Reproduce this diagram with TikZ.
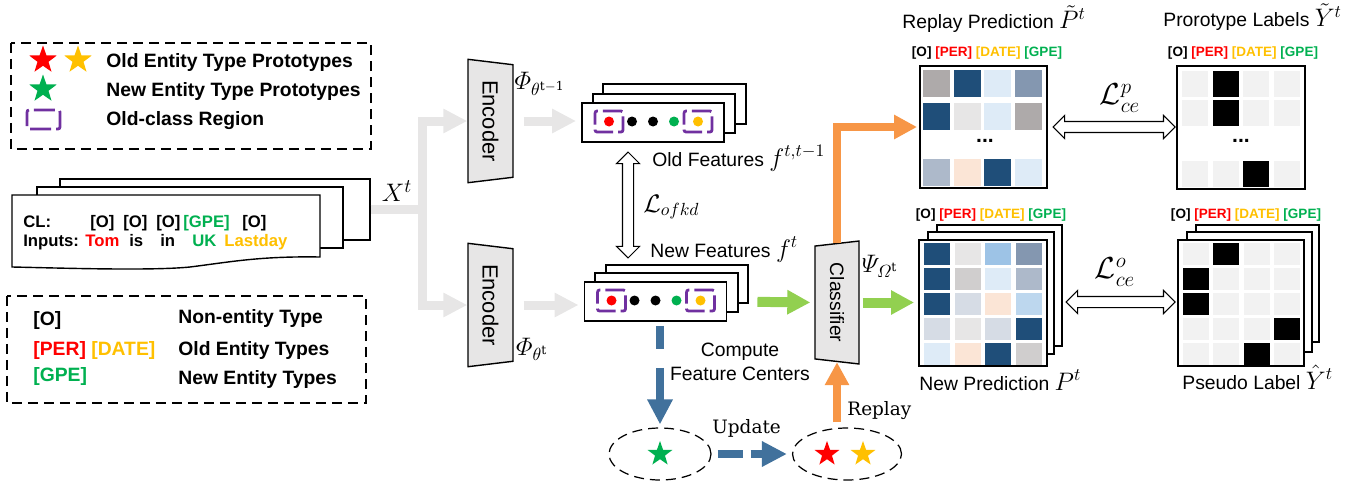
\documentclass[tikz,border=0pt]{standalone}
\usepackage{amsmath}
\usepackage{fontspec}
\setmainfont{DejaVu Serif}
\setsansfont{Liberation Sans}
\usetikzlibrary{arrows.meta,shapes.geometric,shapes.arrows,calc,positioning}

\definecolor{oldRed}{HTML}{FF0000}
\definecolor{oldYel}{HTML}{FFC000}
\definecolor{newGrn}{HTML}{00B050}
\definecolor{regPur}{HTML}{7030A0}
\definecolor{flowGray}{HTML}{E7E6E6}
\definecolor{flowOra}{HTML}{F79646}
\definecolor{flowGrn}{HTML}{92D050}
\definecolor{flowBlu}{HTML}{41719C}
% heat map cells
\definecolor{cDb}{HTML}{1F4E79}
\definecolor{cGa}{HTML}{AEAAAA}
\definecolor{cGb}{HTML}{8497B0}
\definecolor{cVl}{HTML}{DEEBF7}
\definecolor{cLg}{HTML}{E7E6E6}
\definecolor{cBs}{HTML}{ADB9CA}
\definecolor{cPe}{HTML}{FBE5D6}
\definecolor{cLb}{HTML}{9DC3E6}
\definecolor{cGm}{HTML}{D0CECE}
\definecolor{cBt}{HTML}{D6DCE5}
\definecolor{cBe}{HTML}{BDD7EE}
\definecolor{cW}{HTML}{F2F2F2}
\definecolor{cK}{HTML}{000000}

\newcommand{\typehead}{[O] \textcolor{oldRed}{[PER]} \textcolor{oldYel}{[DATE]} \textcolor{newGrn}{[GPE]}}
\newcommand{\mlab}[1]{{\fontsize{14}{16}\selectfont$#1$}}

\begin{document}
\begin{tikzpicture}[x=0.02cm, y=-0.02cm, >=latex,
    txt/.style={font=\sffamily\fontsize{11}{13.6}\selectfont, inner sep=0},
    btxt/.style={font=\sffamily\bfseries\fontsize{11}{13}\selectfont, inner sep=0, anchor=west},
    dtxt/.style={font=\sffamily\bfseries\fontsize{9.5}{11}\selectfont, inner sep=0, anchor=base west},
    hdr/.style={font=\sffamily\bfseries\fontsize{7.7}{9}\selectfont, inner sep=0},
    stxt/.style={font=\fontsize{10.5}{12}\selectfont, inner sep=0, anchor=base west},
    legbox/.style={line width=0.7pt, dash pattern=on 0.2cm off 0.12cm},
    sheet/.style={draw, fill=white, line width=0.8pt},
    msheet/.style={draw, fill=white, line width=1.1pt},
    mbox/.style={draw, fill=white, line width=1.1pt, inner sep=0},
    pstar/.style={star, star points=5, star point ratio=2.5, inner sep=0, minimum size=0.58cm},
    regbox/.style={regPur, line width=1.6pt, rounded corners=1.2pt, dash pattern=on 0.39cm off 0.1cm, dash phase=0.16cm},
    netbox/.style={trapezium, draw, fill=flowGray, line width=0.8pt, rotate=-90, trapezium stretches=true, inner sep=0},
    hollow/.style={double arrow, draw, fill=white, line width=0.6pt, inner sep=0.1cm, minimum width=0pt, double arrow head extend=0.12cm, double arrow tip angle=90},
    protoset/.style={ellipse, draw, line width=0.7pt, dash pattern=on 0.2cm off 0.12cm, minimum height=1.04cm},
    grayarr/.style={flowGray, line width=0.18cm, -{Triangle[width=0.46cm, length=0.48cm]}},
    grnarr/.style={flowGrn, line width=0.2cm, -{Triangle[width=0.46cm, length=0.46cm]}},
    oraarr/.style={flowOra, line width=0.16cm, -{Triangle[width=0.46cm, length=0.46cm]}},
    bluarr/.style={flowBlu, line width=0.16cm, -{Triangle[width=0.48cm, length=0.5cm]}}]
    \useasboundingbox (0,0) rectangle (1361,483);

    % 1. Chú thích
    \draw[legbox] (11,43) rectangle (371,149);
    \node[pstar, fill=oldRed] (lsR) at (43,60) {};
    \node[pstar, fill=oldYel] (lsY) at (78,60) {};
    \node[pstar, fill=newGrn] (lsG) at (43,89) {};
    \draw[regbox, dash pattern=on 0.42cm off 0.1cm, dash phase=0.14cm] (27,110) rectangle (60,129);
    \node[btxt] (lt1) at (106,63) {Old Entity Type Prototypes};
    \node[btxt] (lt2) at (106,92) {New Entity Type Prototypes};
    \node[btxt] (lt3) at (106,121) {Old-class Region};

    \draw[legbox] (7,296) rectangle (366,403);
    \node[btxt] (ty1) at (33,320) {[O]};
    \node[btxt] (ty2) at (33,350) {\textcolor{oldRed}{[PER]} \textcolor{oldYel}{[DATE]}};
    \node[btxt] (ty3) at (33,376) {\textcolor{newGrn}{[GPE]}};
    \node[btxt] (tn1) at (178,318) {Non-entity Type};
    \node[btxt] (tn2) at (178,350) {Old Entity Types};
    \node[btxt] (tn3) at (178,379) {New Entity Types};

    % 2. Câu đầu vào
    \node[sheet, minimum width=6.2cm, minimum height=1.22cm, inner sep=0] (docB) at (215,209.5) {};
    \draw[sheet] (37,187) rectangle (343,248);
    \draw[sheet] (12,195) -- (320,195) -- (320,257)
        .. controls (260,256) and (230,262) .. (190,267)
        .. controls (150,271) and (60,268) .. (12,267) -- cycle;
    \node[dtxt] (cl0) at (23,227) {CL:};
    \node[dtxt] (cl1) at (90,227) {[O]};
    \node[dtxt] (cl2) at (123,227) {[O]};
    \node[dtxt] (cl3) at (156,227) {[O]};
    \node[dtxt, text=newGrn] (cl4) at (183,227) {[GPE]};
    \node[dtxt] (cl5) at (242,227) {[O]};
    \node[dtxt] (in0) at (23,246) {Inputs:};
    \node[dtxt, text=oldRed] (in1) at (85,246) {Tom};
    \node[dtxt] (in2) at (129,246) {is};
    \node[dtxt] (in3) at (160,246) {in};
    \node[dtxt, text=newGrn] (in4) at (192,246) {UK};
    \node[dtxt, text=oldYel] (in5) at (224,246) {Lastday};
    \node[inner sep=0, font=\fontsize{15}{17}\selectfont] (xt) at (397,191) {$X^t$};

    % 3. Encoder và đặc trưng
    \node[netbox, trapezium angle=76.3, minimum width=2.48cm, minimum height=0.9cm,
        font=\sffamily\fontsize{12.5}{14}\selectfont] (encT) at (490.5,121) {Encoder};
    \node[netbox, trapezium angle=76.3, minimum width=2.48cm, minimum height=0.9cm,
        font=\sffamily\fontsize{12.5}{14}\selectfont] (encB) at (490.5,305) {Encoder};
    \node[inner sep=0] (phiT) at (540,84) {\mlab{\varPhi_{\theta^{\mathrm{t-1}}}}};
    \node[inner sep=0] (phiB) at (532,349) {\mlab{\varPhi_{\theta^{\mathrm{t}}}}};

    \draw[flowGray, line width=0.18cm] (docB.east) -- ++(52,0) coordinate (split);
    \draw[grayarr] (split) |- (encT.south);
    \draw[grayarr] (split) |- (encB.south);

    \draw[sheet] (603,84) rectangle (746,124);
    \draw[sheet] (593,94) rectangle (735,133);
    \node[mbox, minimum width=2.84cm, minimum height=0.78cm] (oldF) at (653,122.5) {};
    \draw[sheet] (606,265) rectangle (748,303);
    \draw[sheet] (595,273) rectangle (738,312);
    \node[mbox, minimum width=2.84cm, minimum height=0.78cm] (newF) at (655.5,301.5) {};
    \foreach \fb in {oldF,newF} {
        \foreach \dx/\cl in {-44/oldRed,-21/black,0/black,21/newGrn,45/oldYel}
            \fill[\cl] ($(\fb)+(\dx,-1)$) circle (5);
        \draw[regbox] ($(\fb)+(-58,-11.5)$) rectangle ++(28,21);
        \draw[regbox] ($(\fb)+(31,-11.5)$) rectangle ++(28,21);
    }
    \draw[grayarr, shorten <=0.2cm, shorten >=0.1cm] (encT.north) -- (encT.north -| oldF.west);
    \draw[grayarr, shorten <=0.2cm, shorten >=0.1cm] (encB.north) -- (encB.north -| newF.west);

    \node[txt, anchor=base west] (oldFl) at (652,166) {Old Features \mlab{f^{t,t-1}}};
    \node[txt, anchor=base west] (newFl) at (650,257) {New Features \mlab{f^{t}}};
    \node[hollow, rotate=90, minimum height=2.12cm] (ofkdArr) at (628,205) {};
    \node[inner sep=0, anchor=west] (lofkd) at (643,207) {\mlab{\mathcal{L}_{ofkd}}};

    % 4. Nguyên mẫu
    \node[protoset, minimum width=2.04cm] (protoNew) at (660,454) {};
    \node[protoset, minimum width=2.18cm] (protoOld) at (847,454) {};
    \node[pstar, fill=newGrn, minimum size=0.52cm] (pG) at (660,454) {};
    \node[pstar, fill=oldRed, minimum size=0.52cm] (pR) at (827,454) {};
    \node[pstar, fill=oldYel, minimum size=0.52cm] (pY) at (863,454) {};
    \node[txt, align=center] (cfc) at (740,362) {Compute\\Feature Centers};
    \node[stxt] (upd) at (712,433) {Update};
    \node[stxt] (rep) at (847,415) {Replay};
    \draw[bluarr, dash pattern=on 0.46cm off 0.38cm on 1cm off 0cm, shorten <=0.08cm, shorten >=0.06cm]
        (protoNew.north |- newF.south) -- (protoNew.north);
    \draw[bluarr, dash pattern=on 0.5cm off 0.16cm on 1cm off 0cm, shorten <=0.12cm, shorten >=0.1cm]
        (protoNew.east) -- (protoOld.west);

    % 5. Classifier
    \node[netbox, trapezium left angle=104, trapezium right angle=104, minimum width=2.46cm, minimum height=0.88cm,
        font=\sffamily\fontsize{11}{13}\selectfont] (cls) at (837,302.5) {Classifier};
    \node[inner sep=0] (psi) at (880,266) {\mlab{\varPsi_{\varOmega^{\mathrm{t}}}}};

    % 6. Ma trận dự đoán
    \node[mbox, minimum width=2.54cm, minimum height=2.44cm] (repP) at (983.5,127) {};
    \foreach \ry/\row in {70/{cGa,cDb,cVl,cGb},103/{cDb,cLg,cVl,cGa},159/{cBs,cPe,cDb,cVl}}
        \foreach \c [count=\k] in \row
            \fill[\c] ({923+30.7*(\k-1)},\ry) rectangle ++(27,27);
    \node[font=\sffamily\bfseries\fontsize{12}{12}\selectfont, inner sep=0] (dRep) at (985,141) {...};
    \node[mbox, minimum width=2.56cm, minimum height=2.46cm] (protoL) at (1241,127.5) {};
    \foreach \ry/\row in {71/{cW,cK,cW,cW},100/{cW,cK,cW,cW},161/{cW,cW,cK,cW}}
        \foreach \c [count=\k] in \row
            \fill[\c] ({1182+30.5*(\k-1)},\ry) rectangle ++(26,26);
    \node[font=\sffamily\bfseries\fontsize{12}{12}\selectfont, inner sep=0] (dPro) at (1241,141) {...};

    \draw[msheet] (937,225) rectangle (1062,346);
    \draw[msheet] (928,232) rectangle (1054,354);
    \node[mbox, minimum width=2.56cm, minimum height=2.52cm] (newP) at (983,303) {};
    \foreach \row [count=\r] in {{cDb,cLg,cLb,cGb},{cDb,cGm,cVl,cBs},{cDb,cBt,cPe,cBe},{cBt,cLg,cBt,cDb},{cVl,cPe,cDb,cGm}}
        \foreach \c [count=\k] in \row
            \fill[\c] ({924+30.5*(\k-1)},{243+24.9*(\r-1)}) rectangle ++(26,22);
    \draw[msheet] (1196,225) rectangle (1319,342);
    \draw[msheet] (1187,232) rectangle (1312,352);
    \node[mbox, minimum width=2.52cm, minimum height=2.52cm] (pseuL) at (1241,303) {};
    \foreach \row [count=\r] in {{cW,cK,cW,cW},{cK,cW,cW,cW},{cK,cW,cW,cW},{cW,cW,cW,cK},{cW,cW,cK,cW}}
        \foreach \c [count=\k] in \row
            \fill[\c] ({1183+30.3*(\k-1)},{243+24.9*(\r-1)}) rectangle ++(26,22);

    \node[hdr] (hRep) at (987,53) {\typehead};
    \node[hdr] (hPro) at (1243,53) {\typehead};
    \node[hdr] (hNew) at (991,215) {\typehead};
    \node[hdr] (hPse) at (1246,215) {\typehead};
    \node[txt, anchor=base west] (tRep) at (902,29) {Replay Prediction \mlab{\tilde{P}^{t}}};
    \node[txt, anchor=base west] (tPro) at (1163,27) {Prorotype Labels \mlab{\tilde{Y}^{t}}};
    \node[txt, anchor=base west] (tNew) at (919,390) {New Prediction \mlab{P^{t}}};
    \node[txt, anchor=base west] (tPse) at (1182,389) {Pseudo Label \mlab{\hat{Y}^{t}}};

    \node[hollow, minimum height=2.44cm] (ceP) at (1114,127) {};
    \node[hollow, minimum height=2.18cm] (ceO) at (1120.5,302) {};
    \node[inner sep=0, font=\fontsize{18}{20}\selectfont] (lceP) at (1120,98) {$\mathcal{L}^{p}_{ce}$};
    \node[inner sep=0, font=\fontsize{18}{20}\selectfont] (lceO) at (1115,272) {$\mathcal{L}^{o}_{ce}$};

    % 7. Luồng dữ liệu
    \draw[grnarr, shorten <=0.6cm, shorten >=0.08cm] (newF.east) -- (cls.south);
    \draw[grnarr, shorten <=0.06cm, shorten >=0.08cm] (cls.north) -- (cls.north -| newP.west);
    \draw[oraarr, shorten >=0.04cm] (cls.west) |- (repP.west);
    \draw[oraarr, shorten <=0.1cm] (cls.east |- protoOld.north) -- (cls.east);
\end{tikzpicture}
\end{document}
